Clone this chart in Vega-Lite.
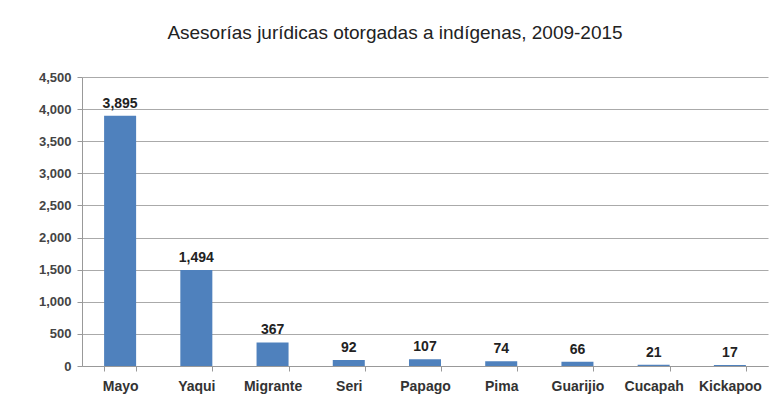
{
  "$schema": "https://vega.github.io/schema/vega-lite/v6.json",
  "autosize": {"type": "none"},
  "padding": {"left": 82, "top": 77, "right": 3, "bottom": 36},
  "width": 686,
  "height": 289,
  "background": "white",
  "title": {
    "text": "Asesorías jurídicas otorgadas a indígenas, 2009-2015",
    "font": "Liberation Sans",
    "fontSize": 19,
    "fontWeight": "normal",
    "color": "#222222",
    "anchor": "middle",
    "dx": -30,
    "offset": 28
  },
  "data": {
    "values": [
      {"grupo": "Mayo", "asesorias": 3895},
      {"grupo": "Yaqui", "asesorias": 1494},
      {"grupo": "Migrante", "asesorias": 367},
      {"grupo": "Seri", "asesorias": 92},
      {"grupo": "Papago", "asesorias": 107},
      {"grupo": "Pima", "asesorias": 74},
      {"grupo": "Guarijio", "asesorias": 66},
      {"grupo": "Cucapah", "asesorias": 21},
      {"grupo": "Kickapoo", "asesorias": 17}
    ]
  },
  "encoding": {
    "x": {
      "field": "grupo",
      "type": "nominal",
      "sort": null,
      "scale": {"paddingInner": 0.58, "paddingOuter": 0.29},
      "axis": {
        "title": null,
        "labelAngle": 0,
        "labelFont": "Liberation Sans",
        "labelFontSize": 14,
        "labelFontWeight": "bold",
        "labelColor": "#333333",
        "labelPadding": 8,
        "tickBand": "extent",
        "tickColor": "#999999",
        "domainColor": "#999999",
        "grid": false
      }
    },
    "y": {
      "field": "asesorias",
      "type": "quantitative",
      "scale": {"domain": [0, 4500]},
      "axis": {
        "title": null,
        "values": [0, 500, 1000, 1500, 2000, 2500, 3000, 3500, 4000, 4500],
        "format": ",.0f",
        "labelFont": "Liberation Sans",
        "labelFontSize": 13,
        "labelFontWeight": "bold",
        "labelColor": "#444444",
        "labelPadding": 6,
        "tickColor": "#999999",
        "domainColor": "#999999",
        "gridColor": "#aaaaaa",
        "gridWidth": 1
      }
    }
  },
  "layer": [
    {"mark": {"type": "bar", "color": "#4F81BD"}},
    {
      "mark": {"type": "text", "dy": -12, "font": "Liberation Sans", "fontSize": 14, "fontWeight": "bold", "color": "#222222"},
      "encoding": {"text": {"field": "asesorias", "type": "quantitative", "format": ",.0f"}}
    }
  ],
  "config": {"view": {"stroke": null}}
}
